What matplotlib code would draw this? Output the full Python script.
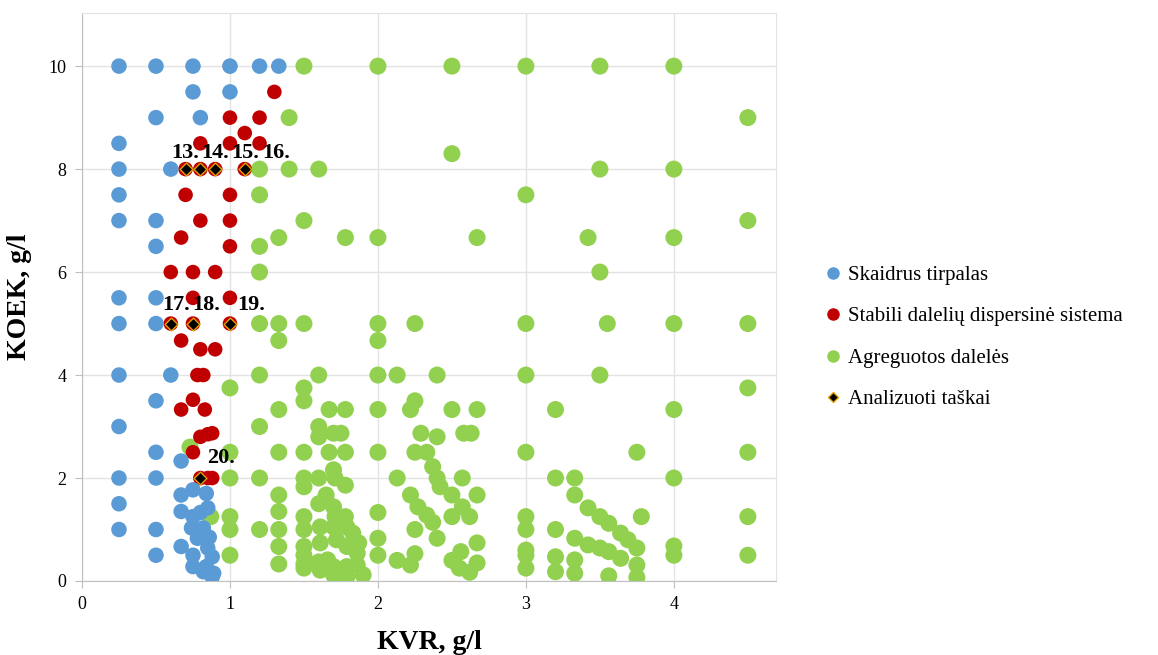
import matplotlib
matplotlib.use("Agg")
import matplotlib.pyplot as plt
from matplotlib.lines import Line2D

plt.rcParams['font.family'] = ['Liberation Serif', 'DejaVu Serif']

# Skaidrus tirpalas
blue_x = [0.25, 0.5, 0.75, 1.0, 1.2, 1.33, 0.75, 1.0, 0.5, 0.8, 0.25, 0.25, 0.6,
          0.25, 0.25, 0.5, 0.5, 0.25, 0.5, 0.25, 0.5, 0.25, 0.6, 0.5, 0.25, 0.5,
          0.67, 0.25, 0.5, 0.25, 0.25, 0.5, 0.5,
          0.67, 0.75, 0.84, 0.67, 0.75, 0.85, 0.8, 0.74, 0.82, 0.78, 0.86, 0.67,
          0.75, 0.85, 0.88, 0.75, 0.84, 0.89, 0.88, 0.82]
blue_y = [10, 10, 10, 10, 10, 10, 9.5, 9.5, 9.0, 9.0, 8.5, 8.0, 8.0,
          7.5, 7.0, 7.0, 6.5, 5.5, 5.5, 5.0, 5.0, 4.0, 4.0, 3.5, 3.0, 2.5,
          2.33, 2.0, 2.0, 1.5, 1.0, 1.0, 0.5,
          1.67, 1.77, 1.7, 1.35, 1.25, 1.42, 1.33, 1.03, 1.03, 0.83, 0.85, 0.67,
          0.5, 0.64, 0.47, 0.28, 0.28, 0.15, 0.08, 0.18]

# Stabili daleliu dispersine sistema
red_x = [1.0, 1.3, 1.0, 1.2, 1.1, 0.8, 1.0, 1.2, 0.7, 0.8, 0.9, 1.1, 0.7, 1.0,
         0.8, 1.0, 0.67, 1.0, 0.6, 0.75, 0.9, 0.75, 1.0, 0.6, 0.75, 1.0, 0.67,
         0.8, 0.9, 0.78, 0.82, 0.75, 0.67, 0.83, 0.8, 0.85, 0.88, 0.75, 0.8,
         0.85, 0.88]
red_y = [10, 9.5, 9.0, 9.0, 8.7, 8.5, 8.5, 8.5, 8, 8, 8, 8, 7.5, 7.5,
         7.0, 7.0, 6.67, 6.5, 6, 6, 6, 5.5, 5.5, 5, 5, 5, 4.67,
         4.5, 4.5, 4.0, 4.0, 3.52, 3.33, 3.33, 2.8, 2.85, 2.87, 2.5, 2.0,
         2.0, 2.0]

# Agreguotos daleles
green_x = [1.5, 2, 2.5, 3, 3.5, 4, 1.4, 4.5, 2.5, 1.2, 1.4, 1.6, 3.5, 4, 1.2, 3,
           1.5, 4.5, 1.33, 1.78, 2, 2.67, 3.42, 4, 1.2, 1.2, 3.5,
           1.2, 1.33, 1.5, 2, 2.25, 3, 3.55, 4, 4.5, 1.33, 2,
           1.2, 1.6, 2, 2.13, 2.4, 3, 3.5, 1.0, 1.5, 4.5, 1.5, 2.25,
           1.33, 1.67, 1.78, 2, 2.22, 2.5, 2.67, 3.2, 4,
           1.2, 1.6, 1.6, 1.7, 1.75, 2.29, 2.4, 2.58, 2.63,
           1.0, 1.33, 1.5, 1.67, 1.78, 2, 2.25, 2.33, 3, 3.75, 4.5, 0.73,
           2.37, 2.4, 2.42, 2.5, 2.57, 2.67, 2.57, 2.5, 2.62, 2.13, 2.22, 2.27,
           2.33, 2.37, 2.25, 2.4, 2.0, 2.0, 2.0, 2.13, 2.22, 2.25, 2.5, 2.56,
           2.67, 2.55, 2.62, 2.67,
           3, 3, 3, 3, 3,
           3.2, 3.33, 3.33, 3.42, 3.5, 3.56, 3.64, 3.69, 3.75, 3.75, 3.75, 3.78,
           3.33, 3.42, 3.5, 3.56, 3.64, 3.2, 3.2, 3.2, 3.33, 3.33, 3.56,
           4, 4, 4, 4.5, 4.5,
           1.0, 1.0, 1.0, 1.0, 1.2, 1.2, 0.87,
           1.33, 1.33, 1.33, 1.33, 1.33,
           1.5, 1.5, 1.5, 1.5, 1.5, 1.5, 1.5, 1.5,
           1.6, 1.7, 1.71, 1.78, 1.65, 1.6, 1.7, 1.78, 1.71, 1.61, 1.7, 1.79,
           1.83, 1.87, 1.61, 1.72, 1.79, 1.86, 1.6, 1.61, 1.7, 1.79, 1.86, 1.9,
           1.79, 1.7, 1.66]
green_y = [10, 10, 10, 10, 10, 10, 9, 9, 8.3, 8, 8, 8, 8, 8, 7.5, 7.5,
           7, 7, 6.67, 6.67, 6.67, 6.67, 6.67, 6.67, 6.5, 6, 6,
           5, 5, 5, 5, 5, 5, 5, 5, 5, 4.67, 4.67,
           4, 4, 4, 4, 4, 4, 4, 3.75, 3.75, 3.75, 3.5, 3.5,
           3.33, 3.33, 3.33, 3.33, 3.33, 3.33, 3.33, 3.33, 3.33,
           3.0, 3.0, 2.8, 2.87, 2.87, 2.87, 2.8, 2.87, 2.87,
           2.5, 2.5, 2.5, 2.5, 2.5, 2.5, 2.5, 2.5, 2.5, 2.5, 2.5, 2.6,
           2.22, 2.0, 1.83, 1.67, 2.0, 1.67, 1.44, 1.25, 1.25, 2.0, 1.67, 1.44,
           1.28, 1.14, 1.0, 0.83, 1.33, 0.83, 0.5, 0.4, 0.31, 0.53, 0.4, 0.57,
           0.74, 0.25, 0.17, 0.35,
           1.25, 1.0, 0.6, 0.5, 0.25,
           2.0, 2.0, 1.67, 1.42, 1.25, 1.12, 0.93, 0.8, 0.64, 0.31, 0.07, 1.25,
           0.83, 0.7, 0.64, 0.57, 0.44, 1.0, 0.47, 0.18, 0.41, 0.15, 0.1,
           2.0, 0.68, 0.5, 1.25, 0.5,
           2.0, 1.25, 1.0, 0.5, 2.0, 1.0, 1.25,
           1.67, 1.35, 1.0, 0.67, 0.33,
           2.0, 1.83, 1.25, 1.0, 0.67, 0.5, 0.33, 0.25,
           2.0, 2.16, 2.0, 1.86, 1.67, 1.5, 1.44, 1.25, 1.25, 1.05, 1.05, 1.05,
           0.93, 0.74, 0.74, 0.8, 0.67, 0.54, 0.37, 0.21, 0.28, 0.28, 0.31, 0.12,
           0.08, 0.12, 0.41]

# Analizuoti taskai
pts_x = [0.7, 0.8, 0.9, 1.1, 0.6, 0.75, 1.0, 0.8]
pts_y = [8, 8, 8, 8, 5, 5, 5, 2]
pts_labels = ['13.', '14.', '15.', '16.', '17.', '18.', '19.', '20.']

legend_labels = ['Skaidrus tirpalas', 'Stabili dalelių dispersinė sistema',
                 'Agreguotos dalelės', 'Analizuoti taškai']

c_blue = '#5B9BD5'
c_red = '#C00000'
c_green = '#92D050'

fig = plt.figure(figsize=(11.58, 6.55), dpi=100)
ax = fig.add_axes([0.0708, 0.113, 0.5993, 0.867])

ax.scatter(green_x, green_y, s=150, color=c_green, edgecolors='none', zorder=3)
ax.scatter(red_x, red_y, s=110, color=c_red, edgecolors='none', zorder=4)
ax.scatter(blue_x, blue_y, s=125, color=c_blue, edgecolors='none', zorder=5)
ax.scatter(pts_x, pts_y, s=42, marker='D', color='black', edgecolors='#E0A000',
           linewidths=1.0, zorder=6)

# label offsets in pixels
offs = [(0, 16), (15, 16), (30, 16), (31, 16), (5, 19), (13, 19), (21, 19), (21, 20)]
for x, y, t, (dx, dy) in zip(pts_x, pts_y, pts_labels, offs):
    ax.annotate(t, (x, y), xytext=(dx, dy), textcoords='offset pixels',
                ha='center', va='center', fontsize=16, fontweight='bold', zorder=7)

ax.set_xlim(0, 4.69)
ax.set_ylim(0, 11.03)
ax.set_xticks([0, 1, 2, 3, 4])
ax.set_yticks([0, 2, 4, 6, 8, 10])
ax.grid(True, color='#E3E3E3', linewidth=1.0, zorder=0)
ax.set_axisbelow(True)
for side in ['top', 'right']:
    ax.spines[side].set_color('#E3E3E3')
for side in ['left', 'bottom']:
    ax.spines[side].set_color('#BFBFBF')
ax.tick_params(direction='out', length=5, color='#BFBFBF', labelsize=13, pad=6)

ax.set_xlabel('KVR, g/l', fontsize=20, fontweight='bold', labelpad=12)
ax.set_ylabel('KOEK, g/l', fontsize=20, fontweight='bold', labelpad=12)

handles = [
    Line2D([], [], ls='none', marker='o', ms=8, color=c_blue),
    Line2D([], [], ls='none', marker='o', ms=8, color=c_red),
    Line2D([], [], ls='none', marker='o', ms=8, color=c_green),
    Line2D([], [], ls='none', marker='D', ms=5, color='black',
           markeredgecolor='#E0A000', markeredgewidth=1.0),
]
fig.legend(handles, legend_labels, loc='center left', bbox_to_anchor=(0.705, 0.485),
           frameon=False, fontsize=15, handlelength=0.8, handletextpad=0.3,
           labelspacing=1.05, borderaxespad=0)

fig.savefig('out.png', dpi=100)
